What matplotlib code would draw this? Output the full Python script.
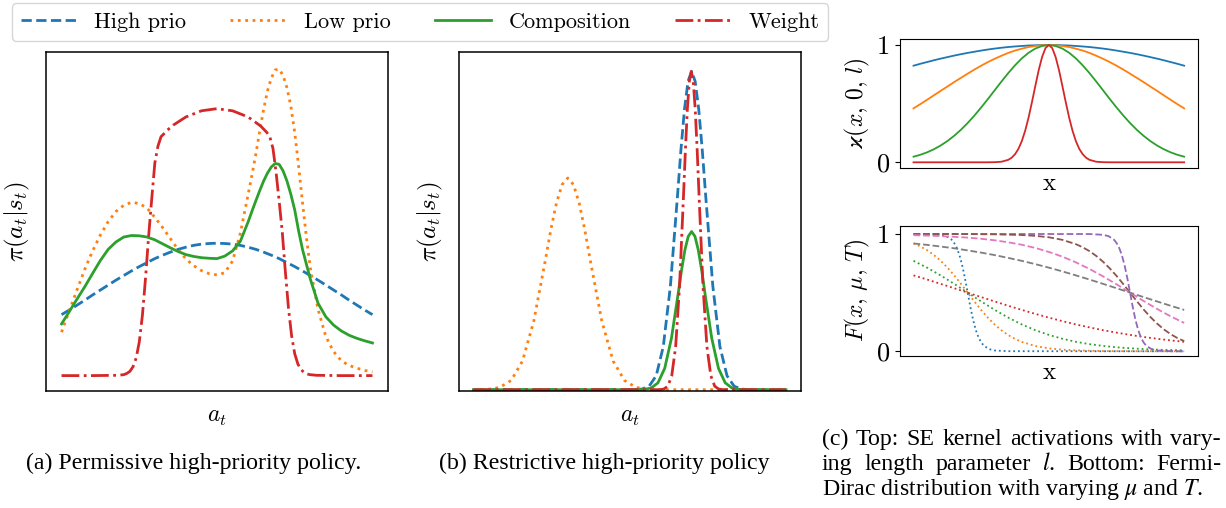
import numpy as np
import matplotlib
matplotlib.use('Agg')
import matplotlib.pyplot as plt

plt.rcParams['font.family'] = 'cmr10'
plt.rcParams['mathtext.fontset'] = 'cm'
plt.rcParams['axes.unicode_minus'] = False
plt.rcParams['axes.formatter.use_mathtext'] = True

# ---- (a) permissive high-priority policy ----
x_a = np.linspace(0, 1, 41)
high_a = [.198, .213, .229, .245, .262, .278, .294, .310, .325, .340, .354, .367, .380, .391,
          .401, .410, .417, .423, .427, .429, .430, .429, .427, .423, .417, .410, .401, .391,
          .380, .367, .354, .340, .325, .310, .294, .278, .262, .245, .229, .213, .198]
# finer sampling around the right-hand peak
x_lc = [0, .025, .05, .075, .1, .125, .15, .175, .2, .225, .25, .275, .3, .325, .35, .375,
        .4, .425, .45, .475, .5, .525, .55, .575, .6, .6125, .625, .6375, .65, .6625, .675,
        .6875, .7, .7125, .725, .7375, .75, .7625, .775, .7875, .8, .825, .85, .875, .9,
        .925, .95, .975, 1.0]
low_a = [.141, .211, .279, .346, .405, .457, .500, .533, .553, .563, .559, .544, .514, .481,
         .445, .409, .379, .357, .341, .331, .327, .334, .372, .462,
         .588, .652, .720, .795, .865, .925, .967, .993, .995, .975, .935, .875, .790, .680,
         .562, .450, .350, .215, .127, .078, .048, .033, .024, .017, .012]
comp_a = [.168, .208, .249, .289, .332, .374, .410, .434, .450, .455, .454, .450, .441, .428,
          .415, .403, .393, .387, .383, .381, .380, .388, .405, .436,
          .499, .534, .568, .601, .632, .658, .678, .689, .686, .665, .632, .589, .538, .470,
          .410, .362, .314, .235, .191, .164, .145, .131, .121, .113, .106]
x_weight_a = [0, .1, .18, .2, .21, .22, .23, .24, .25, .26, .27, .28, .29, .30, .31, .32, .33,
              .34, .36, .40, .45, .50, .55, .60, .64, .66, .67, .68, .69, .70, .71, .72, .73,
              .74, .75, .76, .77, .78, .79, .80, .82, .9, 1.0]
weight_a = [0, 0, .001, .003, .007, .014, .029, .057, .109, .195, .315, .452, .573, .690, .745,
            .776, .786, .797, .814, .840, .860, .867, .860, .840, .811, .790, .775, .738, .660,
            .566, .465, .336, .218, .129, .071, .038, .020, .010, .005, .003, .001, 0, 0]

# ---- (b) restrictive high-priority policy ----
x_low_b = [0, .012, .0483, .0845, .1208, .157, .1933, .2295, .2476, .2658, .2839, .302, .3201,
           .3383, .3564, .3745, .4108, .447, .4833, .5195, .5558, .592, 1.0]
low_b = [0, .0002, .0015, .0074, .0292, .090, .216, .4033, .502, .5869, .6445, .665, .6445,
         .5869, .502, .4033, .216, .090, .0292, .0074, .0015, .0002, 0]
x_high_b = [0, .5168, .5395, .5621, .5848, .6074, .6301, .6527, .664, .6754, .6867, .698,
            .7093, .7207, .732, .7433, .766, .7886, .8113, .8339, .8566, .8792, 1.0]
high_b = [0, .0003, .0022, .0111, .0439, .1353, .3247, .6065, .7548, .8825, .9692, 1.0, .9692,
          .8825, .7548, .6065, .3247, .1353, .0439, .0111, .0022, .0003, 0]
x_comp_b = [0, .526, .5475, .569, .5905, .612, .6335, .655, .6658, .6765, .6873, .698, .7088,
            .7195, .7303, .741, .7625, .784, .8055, .827, .8485, .870, 1.0]
comp_b = [0, .0001, .0011, .0055, .0218, .0672, .1614, .3014, .3751, .4386, .4817, .497, .4817,
          .4386, .3751, .3014, .1614, .0672, .0218, .0055, .0011, .0001, 0]
x_weight_b = [0, .597, .6095, .622, .6345, .647, .6595, .672, .6783, .6845, .6908, .697, .7033,
              .7095, .7158, .722, .7345, .747, .7595, .772, .7845, .797, 1.0]
weight_b = [0, .0003, .0022, .0111, .0439, .1353, .3247, .6065, .7548, .8825, .9692, 1.0,
            .9692, .8825, .7548, .6065, .3247, .1353, .0439, .0111, .0022, .0003, 0]

# ---- (c) top: SE kernel for four length scales ----
x_k = np.linspace(-1, 1, 41)
kern_1 = [.824, .840, .855, .870, .884, .897, .910, .922, .933, .943, .953, .962, .970, .977,
          .983, .988, .992, .996, .998, 1.0, 1.0, 1.0, .998, .996, .992, .988, .983, .977,
          .970, .962, .953, .943, .933, .922, .910, .897, .884, .870, .855, .840, .824]
kern_2 = [.460, .496, .533, .571, .609, .646, .684, .720, .756, .791, .824, .855, .883, .909,
          .933, .953, .969, .983, .992, .998, 1.0, .998, .992, .983, .969, .953, .933, .909,
          .883, .855, .824, .791, .756, .720, .684, .646, .609, .571, .533, .496, .460]
kern_3 = [.048, .064, .085, .111, .143, .181, .226, .277, .335, .399, .468, .540, .615, .689,
          .761, .827, .886, .934, .970, .992, 1.0, .992, .970, .934, .886, .827, .761, .689,
          .615, .540, .468, .399, .335, .277, .226, .181, .143, .111, .085, .064, .048]
x_kern_4 = [-1, -.5, -.45, -.4, -.35, -.3, -.275, -.25, -.225, -.2, -.175, -.15, -.125, -.1,
            -.075, -.05, -.025, 0, .025, .05, .075, .1, .125, .15, .175, .2, .225, .25, .275,
            .3, .35, .4, .45, .5, 1]
kern_4 = [0, 0, .0002, .001, .005, .021, .039, .069, .114, .180, .269, .381, .512, .651, .786,
          .898, .974, 1.0, .974, .898, .786, .651, .512, .381, .269, .180, .114, .069, .039,
          .021, .005, .001, .0002, 0, 0]

# ---- (c) bottom: Fermi-Dirac curves ----
x_fd = np.linspace(0, 1, 21)
x_fd1 = [0, .1, .12, .14, .15, .16, .17, .18, .19, .2, .21, .22, .23, .24, .25, .26, .28, .3,
         .35, 1.0]
fd1 = [1.0, .993, .982, .953, .924, .881, .818, .731, .623, .5, .378, .269, .182, .119, .076,
       .047, .018, .007, .001, 0]
x_fd2 = [0, .025, .05, .075, .1, .125, .15, .175, .2, .225, .25, .275, .3, .325, .35, .375, .4,
         .45, .5, .55, .6, .7, .8, 1.0]
fd2 = [.920, .894, .862, .821, .772, .714, .648, .576, .5, .424, .352, .286, .228, .179, .138,
       .106, .080, .045, .025, .014, .008, .002, .001, 0]
fd3 = [.771, .713, .647, .575, .5, .425, .353, .287, .229, .180, .140, .107, .081, .061, .046,
       .034, .026, .019, .014, .011, .008]
fd4 = [.647, .612, .575, .538, .5, .462, .425, .388, .353, .319, .287, .257, .229, .204, .180,
       .159, .140, .122, .107, .093, .081]
x_fd5 = [0, .65, .7, .72, .74, .75, .76, .77, .78, .79, .8, .81, .82, .83, .84, .85, .86, .88,
         .9, .95, 1.0]
fd5 = [1.0, .9995, .993, .982, .953, .924, .881, .818, .731, .623, .5, .378, .269, .182, .119,
       .076, .047, .018, .007, .001, 0]
x_fd6 = [0, .1, .2, .3, .4, .45, .5, .55, .6, .625, .65, .675, .7, .725, .75, .775, .8, .825,
         .85, .875, .9, .925, .95, .975, 1.0]
fd6 = [1.0, 1.0, .999, .997, .991, .984, .972, .950, .913, .887, .854, .813, .764, .707, .643,
       .573, .5, .427, .357, .293, .236, .187, .146, .113, .087]
fd7 = [.990, .986, .982, .976, .969, .959, .946, .929, .908, .881, .847, .807, .758, .702, .639,
       .571, .5, .429, .361, .298, .242]
fd8 = [.919, .907, .893, .878, .860, .841, .820, .796, .771, .743, .713, .681, .647, .612, .575,
       .538, .5, .462, .425, .388, .353]

series_names = ['High prio', 'Low prio', 'Composition', 'Weight']
captions = ['(a) Permissive high-priority policy.', '(b) Restrictive high-priority policy']
caption_c = ['(c) Top: SE kernel activations with vary-',
             'ing length parameter $l$. Bottom: Fermi-',
             r'Dirac distribution with varying $\mu$ and $T$.']

W, H = 1226, 508
fig = plt.figure(figsize=(W / 100, H / 100), dpi=100)


def box(l, t, r, b):
    return fig.add_axes([l / W, 1 - b / H, (r - l) / W, (b - t) / H])


ax_a = box(46, 52.3, 388, 391)
ax_b = box(459, 52.3, 800.7, 391)
ax_ct = box(900, 39.3, 1197.7, 167.7)
ax_cb = box(900, 226, 1197.7, 356)

lw = 2
h1, = ax_a.plot(x_a, high_a, '--', color='C0', lw=lw)
h2, = ax_a.plot(x_lc, low_a, ':', color='C1', lw=lw)
h3, = ax_a.plot(x_lc, comp_a, '-', color='C2', lw=lw)
h4, = ax_a.plot(x_weight_a, weight_a, '-.', color='C3', lw=lw)
ax_a.set_xlim(-0.05, 1.05)
ax_a.set_ylim(-0.05, 1.05)

ax_b.plot(x_high_b, high_b, '--', color='C0', lw=lw)
ax_b.plot(x_low_b, low_b, ':', color='C1', lw=lw)
ax_b.plot(x_comp_b, comp_b, '-', color='C2', lw=lw)
ax_b.plot(x_weight_b, weight_b, '-.', color='C3', lw=lw)
ax_b.set_xlim(-0.046, 1.047)
ax_b.set_ylim(-0.004, 1.06)

for ax in (ax_a, ax_b):
    ax.set_xticks([])
    ax.set_yticks([])
    for s in ax.spines.values():
        s.set_linewidth(1.1)
    ax.set_ylabel(r'$\pi(a_t|s_t)$', fontsize=18)
    ax.yaxis.set_label_coords(-0.041, 0.5)
    ax.set_xlabel(r'$a_t$', fontsize=17)
    ax.xaxis.set_label_coords(0.5, -0.045)

lwc = 1.3
for ys, c in zip([kern_1, kern_2, kern_3], ['C0', 'C1', 'C2']):
    ax_ct.plot(x_k, ys, '-', color=c, lw=lwc)
ax_ct.plot(x_kern_4, kern_4, '-', color='C3', lw=lwc)
ax_ct.set_xlim(-1.1, 1.1)
ax_ct.set_ylim(-0.046, 1.049)
ax_ct.set_ylabel(r'$\varkappa(x,\,0,\,l)$', fontsize=17)

ax_cb.plot(x_fd1, fd1, ':', color='C0', lw=lwc)
ax_cb.plot(x_fd2, fd2, ':', color='C1', lw=lwc)
ax_cb.plot(x_fd, fd3, ':', color='C2', lw=lwc)
ax_cb.plot(x_fd, fd4, ':', color='C3', lw=lwc)
ax_cb.plot(x_fd5, fd5, '--', color='C4', lw=lwc)
ax_cb.plot(x_fd6, fd6, '--', color='C5', lw=lwc)
ax_cb.plot(x_fd, fd7, '--', color='C6', lw=lwc)
ax_cb.plot(x_fd, fd8, '--', color='C7', lw=lwc)
ax_cb.set_xlim(-0.05, 1.05)
ax_cb.set_ylim(-0.04, 1.068)
ax_cb.set_ylabel(r'$F(x,\,\mu,\,T)$', fontsize=17)

for ax in (ax_ct, ax_cb):
    ax.set_xticks([])
    ax.set_yticks([0, 1])
    ax.set_yticklabels(['0', '1'])
    ax.tick_params(labelsize=19)
    ax.set_xlabel('x', fontsize=18)
    ax.yaxis.set_label_coords(-0.095, 0.5)

fig.legend([h1, h2, h3, h4], series_names, loc='center', ncol=4,
           bbox_to_anchor=(420 / W, 1 - 22 / H), fontsize=16, handlelength=2.5,
           handletextpad=0.8, columnspacing=2.0, borderpad=0.4)

cap_kw = dict(family='Liberation Serif', math_fontfamily='stix', fontsize=17.2, va='baseline')
fig.text(194 / W, 1 - 469 / H, captions[0], ha='center', **cap_kw)
fig.text(604 / W, 1 - 469 / H, captions[1], ha='center', **cap_kw)

# first two lines of caption (c) are justified like the paper
rend = fig.canvas.get_renderer()
x0, x1 = 822, 1221
for line, yb in zip(caption_c[:2], [445, 470]):
    words = [fig.text(0, 1 - yb / H, w, **cap_kw) for w in line.split()]
    widths = [t.get_window_extent(rend).width for t in words]
    gap = (x1 - x0 - sum(widths)) / (len(words) - 1)
    x = x0
    for t, w in zip(words, widths):
        t.set_x(x / W)
        x += w + gap
fig.text(x0 / W, 1 - 495 / H, caption_c[2], **cap_kw)

fig.savefig('out.png', dpi=100)
